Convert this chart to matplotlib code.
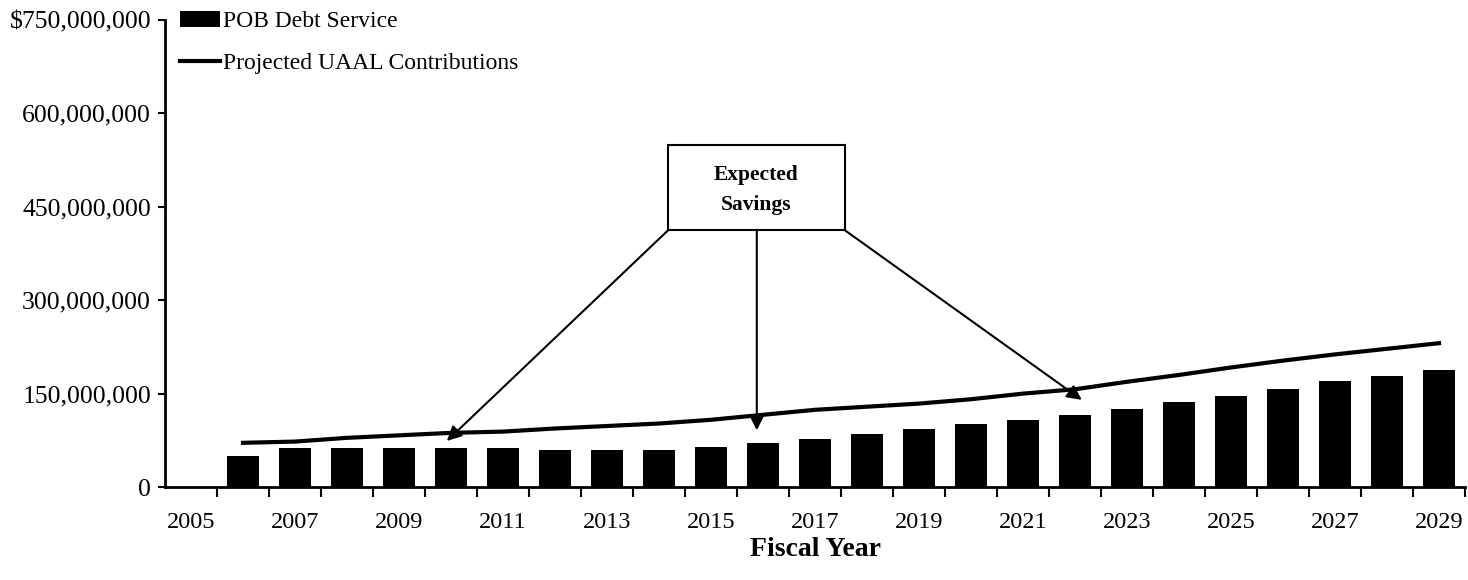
import matplotlib.pyplot as plt
from matplotlib.patches import Rectangle
import numpy as np

plt.rcParams['font.family'] = ['Liberation Serif', 'DejaVu Serif']

# fiscal years with data (2005 is an empty category on the axis)
years = list(range(2006, 2030))
pob_debt = [50, 62, 62, 62, 62, 62, 60, 59, 59, 65, 71, 77, 85, 93,
            101, 108, 116, 126, 136, 146, 157, 170, 178, 188]  # $ millions
uaal = [71, 73, 79, 83, 87, 89, 94, 98, 102, 108, 116, 124, 129, 134,
        141, 150, 157, 169, 180, 192, 203, 213, 222, 231]  # $ millions

yticks = [0, 150, 300, 450, 600, 750]
ytick_labels = ['0', '150,000,000', '300,000,000', '450,000,000',
                '600,000,000', '$750,000,000']
xtick_years = list(range(2005, 2030, 2))

fig = plt.figure(figsize=(14.68, 5.8), dpi=100)
ax = fig.add_axes([0.1124, 0.1603, 0.8856, 0.8052])

bars = ax.bar(years, pob_debt, width=0.63, color='black',
              label='POB Debt Service', zorder=2)
line, = ax.plot(years, uaal, color='black', lw=3,
                label='Projected UAAL Contributions', zorder=3)

ax.set_xlim(2004.5, 2029.5)
ax.set_ylim(0, 750)

ax.set_yticks(yticks)
ax.set_yticklabels(ytick_labels, fontsize=18.5)
ax.tick_params(axis='y', direction='out', length=5, width=1.5, pad=5)

ax.set_xticks(xtick_years)
ax.set_xticklabels([str(y) for y in xtick_years], fontsize=17.5)
ax.set_xticks(np.arange(2005.5, 2030, 1), minor=True)
ax.tick_params(axis='x', which='major', length=0, pad=18)
ax.tick_params(axis='x', which='minor', direction='out', length=7, width=1.5)

for s in ['top', 'right']:
    ax.spines[s].set_visible(False)
for s in ['left', 'bottom']:
    ax.spines[s].set_linewidth(2)

ax.set_xlabel('Fiscal Year', fontsize=20, fontweight='bold', labelpad=3)

leg = ax.legend(handles=[bars, line], loc='upper left',
                bbox_to_anchor=(0.004, 1.04), frameon=False, fontsize=17,
                handlelength=1.7, handletextpad=0.15, labelspacing=0.85,
                borderaxespad=0)

# "Expected Savings" callout
bx0, bx1, by0, by1 = 2014.17, 2017.58, 412, 549
ax.add_patch(Rectangle((bx0, by0), bx1 - bx0, by1 - by0, fill=False,
                       lw=1.5, ec='black', zorder=4))
ax.text((bx0 + bx1) / 2, (by0 + by1) / 2 - 4, 'Expected\nSavings',
        ha='center', va='center', fontsize=15.5, fontweight='bold',
        linespacing=1.65, zorder=5)

arrow_kw = dict(arrowstyle='-|>', color='black', lw=1.5, mutation_scale=22,
                shrinkA=0, shrinkB=0)
ax.annotate('', xy=(2009.92, 74), xytext=(bx0, by0), arrowprops=arrow_kw)
ax.annotate('', xy=(2015.88, 91), xytext=(2015.88, by0), arrowprops=arrow_kw)
ax.annotate('', xy=(2022.13, 140), xytext=(bx1, by0), arrowprops=arrow_kw)

fig.savefig('out.png', dpi=100)
